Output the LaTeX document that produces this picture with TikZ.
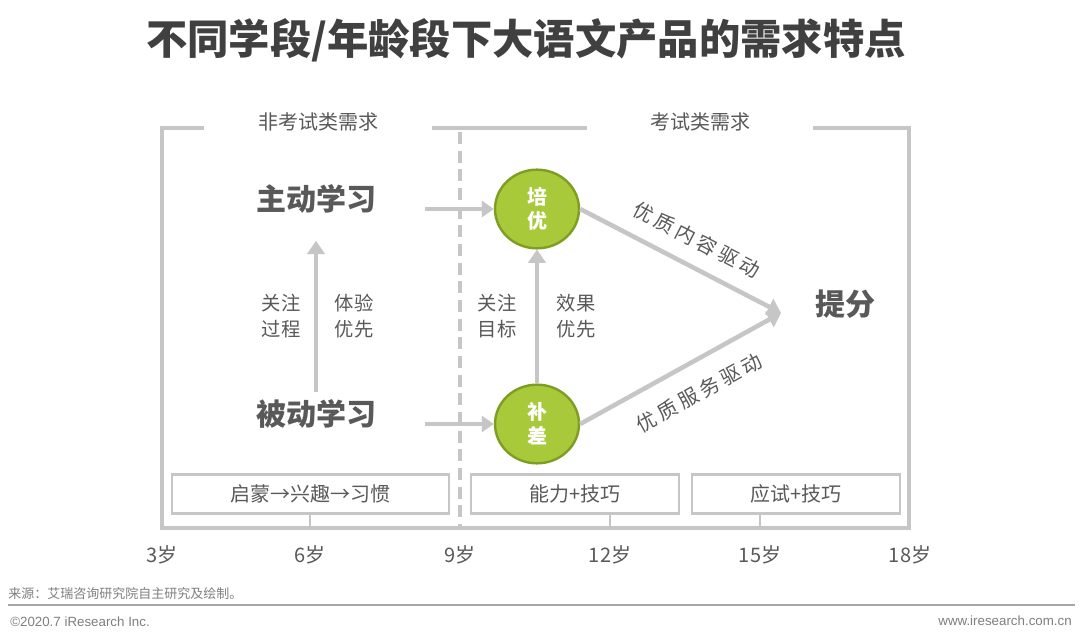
\documentclass[tikz,border=0pt]{standalone}
\usepackage{fontspec}
\setmainfont{Noto Sans CJK SC}
\newfontfamily\latinfont{Liberation Sans}
\newfontfamily\spacedfont[LetterSpace=20]{Noto Sans CJK SC}
\usetikzlibrary{arrows.meta,shapes.geometric}
\definecolor{linegray}{HTML}{C6C6C6}
\definecolor{txtgray}{HTML}{595959}
\definecolor{titlegray}{HTML}{404040}
\definecolor{greenfill}{HTML}{A7C93A}
\definecolor{greenedge}{HTML}{7F9D22}
\definecolor{footgray}{HTML}{7F7F7F}
\definecolor{footline}{HTML}{A6A6A6}
\tikzset{
  frameline/.style={draw=linegray, line width=3pt},
  garrow/.style={draw=linegray, line width=3.4pt, -{Triangle[length=10pt,width=13pt]}},
  headlbl/.style={font=\fontsize{15}{18}\selectfont, text=txtgray},
  bigtxt/.style={font=\bfseries\fontsize{22.5}{26}\selectfont, text=txtgray},
  sidelbl/.style={font=\fontsize{14.5}{19.5}\selectfont, text=txtgray, align=center},
  greencirc/.style={ellipse, fill=greenfill, draw=greenedge, line width=1.8pt,
     minimum width=63pt, minimum height=59pt, inner sep=0pt, text=white,
     font=\bfseries\fontsize{15}{18}\selectfont, align=center},
  agebox/.style={draw=linegray, line width=1.9pt, minimum height=29pt,
     font=\fontsize{15}{18}\selectfont, text=txtgray},
  ticklbl/.style={font=\fontsize{15}{18}\selectfont, text=txtgray},
  difflbl/.style={font=\spacedfont\fontsize{15}{18}\selectfont, text=txtgray, inner sep=0pt}
}
\begin{document}
\begin{tikzpicture}[x=0.75pt,y=-0.75pt]
\useasboundingbox[fill=white] (0,0) rectangle (1080,641);

% title
\node[font=\bfseries\fontsize{31}{33}\selectfont, text=titlegray] (title) at (526,40) {不同学段/年龄段下大语文产品的需求特点};

% frame
\draw[frameline, line join=miter] (204,128) -- (162,128) -- (162,528) -- (909,528) -- (909,128) -- (813,128);
\draw[frameline] (432,128) -- (587,128);
\draw[frameline, dash pattern=on 9pt off 5pt] (460,132) -- (460,528);
\foreach \x in {310,610,760} \draw[draw=linegray, line width=2.2pt] (\x,513) -- (\x,528);

\node[headlbl] (nk) at (318,122) {非考试类需求};
\node[headlbl] (kl) at (700,122) {考试类需求};

% left part
\node[bigtxt] (zd) at (316,199) {主动学习};
\node[bigtxt] (bd) at (316,414) {被动学习};
\draw[garrow, shorten <=2pt, shorten >=17pt] (bd) -- (zd);
\node[sidelbl] (gz1) at (281,316) {关注\\过程};
\node[sidelbl] (ty) at (354,316) {体验\\优先};

% circles
\node[greencirc] (py) at (537,209) {培\\优};
\node[greencirc] (bc) at (537,424) {补\\差};
\coordinate (za) at (425,209);
\coordinate (ba) at (425,424);
\draw[garrow, line width=3.2pt, -{Triangle[length=9pt,width=12pt]}] (za) -- (py.west);
\draw[garrow, line width=3.2pt, -{Triangle[length=9pt,width=12pt]}] (ba) -- (bc.west);
\draw[garrow] (bc.north) -- (py.south);
\node[sidelbl] (gz2) at (497,316) {关注\\目标};
\node[sidelbl] (xg) at (576,316) {效果\\优先};

% convergence
\coordinate (tip) at (781,313);
\draw[garrow] (py.east) -- (tip) node[difflbl, pos=0.52, sloped, above=11pt] (lbl1) {优质内容驱动};
\draw[garrow] (bc.east) -- (tip) node[difflbl, pos=0.52, sloped, below=14pt] (lbl2) {优质服务驱动};
\node[bigtxt] (tf) at (845,304) {提分};

% boxes
\node[agebox, minimum width=207.5pt] (b1) at (310.5,494) {启蒙→兴趣→习惯};
\node[agebox, minimum width=156pt] (b2) at (575,494) {能力+技巧};
\node[agebox, minimum width=156pt] (b3) at (796,494) {应试+技巧};

% axis labels
\node[ticklbl] (a3) at (162,555) {3岁};
\node[ticklbl] (a6) at (310,555) {6岁};
\node[ticklbl] (a9) at (460,555) {9岁};
\node[ticklbl] (a12) at (610,555) {12岁};
\node[ticklbl] (a15) at (760,555) {15岁};
\node[ticklbl] (a18) at (910,555) {18岁};

% footer
\node[anchor=west, inner sep=0pt, font=\fontsize{9.75}{11}\selectfont, text=footgray] (src) at (8,594) {来源：艾瑞咨询研究院自主研究及绘制。};
\draw[draw=footline, line width=1.8pt] (8,605) -- (1075,605);
\node[anchor=west, inner sep=0pt, font=\latinfont\fontsize{10}{12}\selectfont, text=footgray] (copy) at (10,622) {©2020.7 iResearch Inc.};
\node[anchor=east, inner sep=0pt, font=\latinfont\fontsize{10}{12}\selectfont, text=footgray] (web) at (1072,621) {www.iresearch.com.cn};
\end{tikzpicture}
\end{document}
